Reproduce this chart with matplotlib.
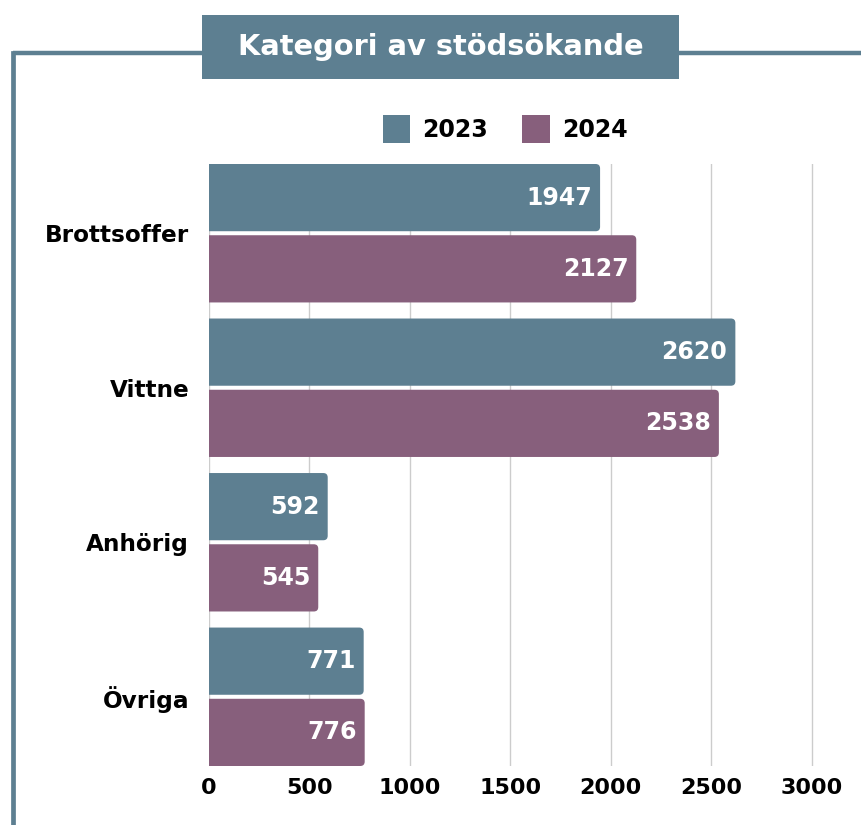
import matplotlib
matplotlib.use("Agg")
import matplotlib.pyplot as plt
from matplotlib.patches import FancyBboxPatch, Rectangle, Patch
from matplotlib.lines import Line2D

# data
categories = ["Brottsoffer", "Vittne", "Anhörig", "Övriga"]
values_2023 = [1947, 2620, 592, 771]
values_2024 = [2127, 2538, 545, 776]
series_names = ["2023", "2024"]
x_ticks = [0, 500, 1000, 1500, 2000, 2500, 3000]

C_2023 = "#5d7f91"
C_2024 = "#875f7c"
FONT = "DejaVu Sans"

plt.rcParams["font.family"] = FONT
plt.rcParams["font.weight"] = "bold"

fig = plt.figure(figsize=(8.61, 8.25), dpi=100)
ax = fig.add_axes([208.7 / 861, 1 - 766 / 825, 1 - 208.7 / 861, (766 - 164) / 825])

bar_h = 0.435
gap = 0.026
off = bar_h / 2 + gap / 2
pos = list(range(len(categories)))

b1 = ax.barh([p - off for p in pos], values_2023, height=bar_h, color=C_2023, label=series_names[0])
b2 = ax.barh([p + off for p in pos], values_2024, height=bar_h, color=C_2024, label=series_names[1])

ax.set_xlim(0, 3245)
ax.set_ylim(len(categories) - 1 + bar_h + gap / 2, -(bar_h + gap / 2))

# swap plain rectangles for ones with rounded ends
r = 22  # rounding in data x units (~4-5 px)
aspect = (1 / 154) / (500 / 100.5)
for bars in (b1, b2):
    for rect in bars:
        x, y = rect.get_x(), rect.get_y()
        w, h = rect.get_width(), rect.get_height()
        rect.set_visible(False)
        fp = FancyBboxPatch((x - r, y), w + r, h,
                            boxstyle=f"round,pad=0,rounding_size={r}",
                            mutation_aspect=aspect,
                            fc=rect.get_facecolor(), ec="none", zorder=2)
        ax.add_patch(fp)

# value labels inside bars
for bars, vals in ((b1, values_2023), (b2, values_2024)):
    for rect, v in zip(bars, vals):
        ax.annotate(str(v), (v, rect.get_y() + rect.get_height() / 2),
                    xytext=(-8, 0), textcoords="offset pixels",
                    ha="right", va="center", color="white",
                    fontsize=17, fontweight="bold", zorder=3)

ax.set_yticks(pos)
ax.set_yticklabels(categories)
ax.set_xticks(x_ticks)
ax.tick_params(axis="y", length=0, pad=14, labelsize=16.7)
ax.tick_params(axis="x", length=0, pad=9, labelsize=16)
for lab in ax.get_xticklabels() + ax.get_yticklabels():
    lab.set_fontweight("bold")

ax.grid(axis="x", color="#cccccc", linewidth=1)
ax.set_axisbelow(True)
for s in ax.spines.values():
    s.set_visible(False)

# legend
handles = [Patch(fc=C_2023, ec="none"), Patch(fc=C_2024, ec="none")]
fig.legend(handles=handles, labels=series_names, loc="center",
           bbox_to_anchor=(505 / 861, 1 - 129 / 825), ncol=2, frameon=False,
           handlelength=1.18, handleheight=1.45,
           handletextpad=0.5, columnspacing=1.45, borderpad=0,
           prop={"weight": "bold", "size": 17})

# frame lines and title box
y_line = 1 - 53 / 825
x_line = 12.5 / 861
fig.add_artist(Line2D([x_line, 1], [y_line, y_line], transform=fig.transFigure,
                      color=C_2023, linewidth=3.2, solid_capstyle="butt"))
fig.add_artist(Line2D([x_line, x_line], [y_line, 0], transform=fig.transFigure,
                      color=C_2023, linewidth=3.4, solid_capstyle="projecting"))
fig.add_artist(Rectangle((202 / 861, 1 - 78.5 / 825), 477 / 861, 63.5 / 825,
                         transform=fig.transFigure, fc=C_2023, ec="none"))
fig.text(440.5 / 861, 1 - 47 / 825, "Kategori av stödsökande", ha="center", va="center",
         color="white", fontsize=20.8, fontweight="bold")

fig.savefig("out.png", dpi=100)
